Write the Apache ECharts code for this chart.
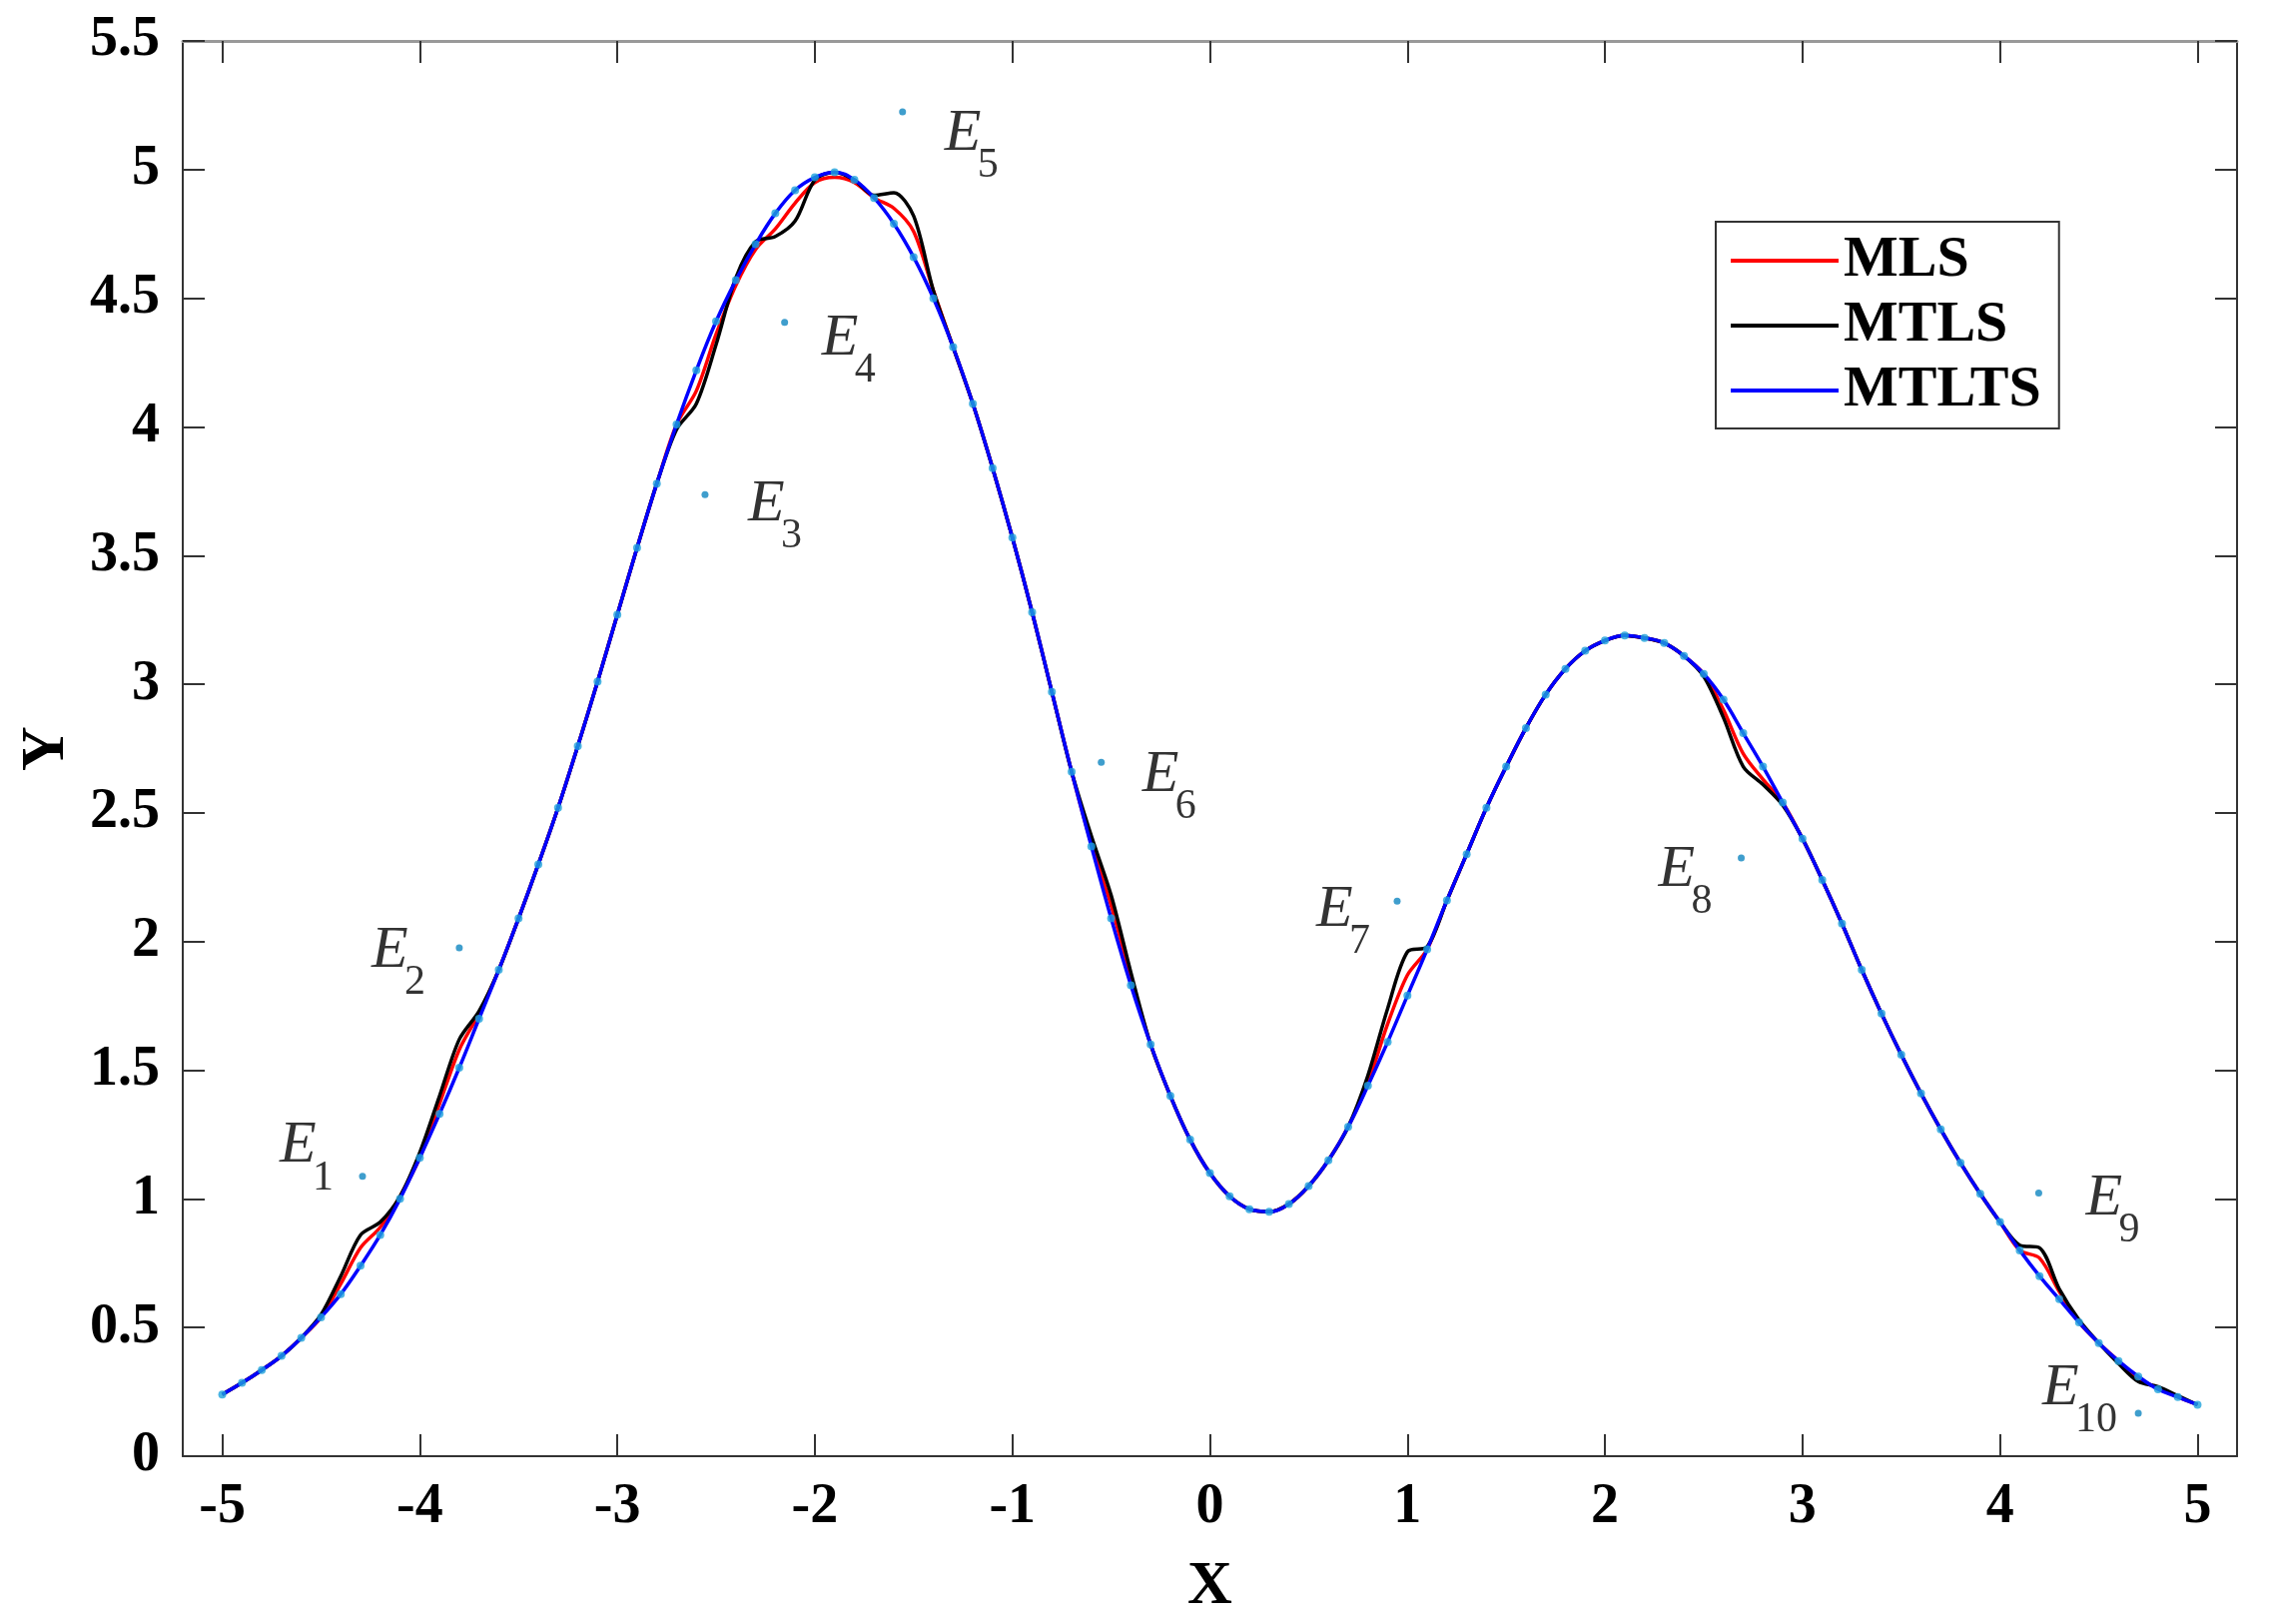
<!DOCTYPE html>
<html>
<head>
<meta charset="utf-8">
<script src="https://cdn.jsdelivr.net/npm/echarts@6/dist/echarts.min.js"></script>
<style>
  html, body { margin: 0; padding: 0; background: #fff; }
  #chart { width: 2274px; height: 1626px; }
</style>
</head>
<body>
<div id="chart"></div>
<script>
// sample positions along X (step 0.1)
var xs = [-5.0, -4.9, -4.8, -4.7, -4.6, -4.5, -4.4, -4.3, -4.2, -4.1,
  -4.0, -3.9, -3.8, -3.7, -3.6, -3.5, -3.4, -3.3, -3.2, -3.1,
  -3.0, -2.9, -2.8, -2.7, -2.6, -2.5, -2.4, -2.3, -2.2, -2.1,
  -2.0, -1.9, -1.8, -1.7, -1.6, -1.5, -1.4, -1.3, -1.2, -1.1,
  -1.0, -0.9, -0.8, -0.7, -0.6, -0.5, -0.4, -0.3, -0.2, -0.1,
  0.0, 0.1, 0.2, 0.3, 0.4, 0.5, 0.6, 0.7, 0.8, 0.9,
  1.0, 1.1, 1.2, 1.3, 1.4, 1.5, 1.6, 1.7, 1.8, 1.9,
  2.0, 2.1, 2.2, 2.3, 2.4, 2.5, 2.6, 2.7, 2.8, 2.9,
  3.0, 3.1, 3.2, 3.3, 3.4, 3.5, 3.6, 3.7, 3.8, 3.9,
  4.0, 4.1, 4.2, 4.3, 4.4, 4.5, 4.6, 4.7, 4.8, 4.9, 5.0];

// MTLTS fit (blue), also the sample dots
var mtltsY = [0.24, 0.285, 0.335, 0.39, 0.46, 0.54, 0.63, 0.74, 0.86, 1.00,
  1.16, 1.33, 1.51, 1.70, 1.89, 2.09, 2.30, 2.52, 2.76, 3.01,
  3.27, 3.53, 3.78, 4.01, 4.22, 4.41, 4.57, 4.71, 4.83, 4.92,
  4.97, 4.99, 4.96, 4.89, 4.79, 4.66, 4.50, 4.31, 4.09, 3.84,
  3.57, 3.28, 2.97, 2.66, 2.37, 2.09, 1.83, 1.60, 1.40, 1.23,
  1.10, 1.01, 0.96, 0.95, 0.98, 1.05, 1.15, 1.28, 1.44, 1.61,
  1.79, 1.97, 2.16, 2.34, 2.52, 2.68, 2.83, 2.96, 3.06, 3.13,
  3.17, 3.19, 3.18, 3.16, 3.11, 3.04, 2.94, 2.81, 2.68, 2.54,
  2.40, 2.24, 2.07, 1.89, 1.72, 1.56, 1.41, 1.27, 1.14, 1.02,
  0.91, 0.80, 0.70, 0.61, 0.52, 0.44, 0.37, 0.31, 0.26, 0.23, 0.20];

// MLS fit (red)
var mlsY = [0.24, 0.285, 0.335, 0.39, 0.46, 0.54, 0.67, 0.81, 0.89, 1.01,
  1.16, 1.37, 1.58, 1.72, 1.89, 2.09, 2.30, 2.52, 2.76, 3.01,
  3.27, 3.53, 3.78, 4.01, 4.14, 4.36, 4.55, 4.69, 4.77, 4.87,
  4.95, 4.97, 4.95, 4.89, 4.85, 4.76, 4.53, 4.31, 4.09, 3.84,
  3.57, 3.28, 2.97, 2.66, 2.38, 2.14, 1.86, 1.60, 1.40, 1.23,
  1.10, 1.01, 0.96, 0.95, 0.98, 1.05, 1.15, 1.28, 1.45, 1.68,
  1.87, 1.97, 2.16, 2.34, 2.52, 2.68, 2.83, 2.96, 3.06, 3.13,
  3.17, 3.19, 3.18, 3.16, 3.11, 3.04, 2.90, 2.73, 2.63, 2.54,
  2.40, 2.24, 2.07, 1.89, 1.72, 1.56, 1.41, 1.27, 1.14, 1.02,
  0.91, 0.80, 0.77, 0.64, 0.52, 0.44, 0.37, 0.30, 0.265, 0.23, 0.20];

// MTLS fit (black)
var mtlsY = [0.24, 0.285, 0.335, 0.39, 0.46, 0.55, 0.70, 0.86, 0.91, 1.01,
  1.18, 1.40, 1.62, 1.73, 1.89, 2.09, 2.30, 2.52, 2.76, 3.01,
  3.27, 3.53, 3.78, 3.99, 4.09, 4.32, 4.58, 4.72, 4.74, 4.80,
  4.96, 4.99, 4.96, 4.90, 4.91, 4.82, 4.53, 4.31, 4.09, 3.84,
  3.57, 3.28, 2.97, 2.66, 2.41, 2.18, 1.88, 1.60, 1.40, 1.23,
  1.10, 1.01, 0.96, 0.95, 0.98, 1.05, 1.15, 1.28, 1.48, 1.74,
  1.96, 1.98, 2.16, 2.34, 2.52, 2.68, 2.83, 2.96, 3.06, 3.13,
  3.17, 3.19, 3.18, 3.16, 3.11, 3.03, 2.87, 2.68, 2.61, 2.53,
  2.40, 2.24, 2.07, 1.89, 1.72, 1.56, 1.41, 1.27, 1.14, 1.02,
  0.91, 0.82, 0.81, 0.65, 0.53, 0.44, 0.36, 0.29, 0.27, 0.235, 0.20];

// outliers E1..E10
var outNames = ['1', '2', '3', '4', '5', '6', '7', '8', '9', '10'];
var outX = [-4.29, -3.80, -2.556, -2.153, -1.556, -0.55, 0.948, 2.69, 4.196, 4.70];
var outY = [1.088, 1.976, 3.737, 4.406, 5.224, 2.697, 2.157, 2.325, 1.023, 0.167];

var xTicks = [-5, -4, -3, -2, -1, 0, 1, 2, 3, 4, 5];
var legendNames = ['MLS', 'MTLS', 'MTLTS'];

// where the letter E sits, px from its dot: [left of glyph, top of capital]
var outLabelAt = [[-83, -49], [-88, -16], [43, -9], [37, -3], [42, 3],
  [41, -6], [-81, -10], [-83, -7], [47, -13], [-96, -44]];

var serif = "'Liberation Serif', 'Times New Roman', serif";

function pairs(x, y) {
  var out = [];
  for (var i = 0; i < x.length; i++) out.push([x[i], y[i]]);
  return out;
}

// letter E and its subscript are two labels on invisible copies of the outliers
var eData = [], subData = [];
for (var i = 0; i < outX.length; i++) {
  var at = outLabelAt[i];
  eData.push({
    value: [outX[i], outY[i]],
    label: { position: [at[0] + 1, at[1] - 11 + 1] }
  });
  subData.push({
    value: [outX[i], outY[i]],
    name: outNames[i],
    label: { position: [at[0] + 33 + 1, at[1] + 38 - 8 + 1] }
  });
}

var myChart = echarts.init(document.getElementById('chart'));

var tickStyle = { show: true, inside: true, length: 22, lineStyle: { color: '#333', width: 2 } };

var option = {
  backgroundColor: '#fff',
  animation: false,
  grid: { left: 183, top: 41, right: 34, bottom: 168 },
  legend: {
    data: legendNames,
    orient: 'vertical',
    left: 1718,
    top: 222,
    padding: [10, 18, 9, 15],
    itemGap: 7,
    icon: 'rect',
    itemWidth: 108,
    itemHeight: 4,
    borderColor: '#333',
    borderWidth: 2,
    backgroundColor: '#fff',
    textStyle: { fontFamily: serif, fontWeight: 'bold', fontSize: 58, lineHeight: 58, color: '#000' }
  },
  xAxis: [{
    type: 'value',
    min: -5.2,
    max: 5.2,
    name: 'X',
    nameLocation: 'middle',
    nameGap: 100,
    nameTextStyle: { fontFamily: serif, fontWeight: 'bold', fontSize: 62, color: '#000' },
    axisLine: { onZero: false, lineStyle: { color: '#333', width: 2 } },
    axisTick: Object.assign({ customValues: xTicks }, tickStyle),
    axisLabel: { customValues: xTicks, margin: 24, fontFamily: serif, fontWeight: 'bold', fontSize: 56, color: '#000' },
    splitLine: { show: false }
  }, {
    type: 'value',
    min: -5.2,
    max: 5.2,
    position: 'top',
    axisLine: { show: true, onZero: false, lineStyle: { color: '#999', width: 3 } },
    axisTick: Object.assign({ customValues: xTicks }, tickStyle),
    axisLabel: { show: false },
    splitLine: { show: false }
  }],
  yAxis: [{
    type: 'value',
    min: 0,
    max: 5.5,
    interval: 0.5,
    name: 'Y',
    nameLocation: 'middle',
    nameGap: 105,
    nameRotate: 90,
    nameTextStyle: { fontFamily: serif, fontWeight: 'bold', fontSize: 62, color: '#000' },
    axisLine: { show: true, onZero: false, lineStyle: { color: '#333', width: 2 } },
    axisTick: tickStyle,
    axisLabel: { margin: 23, fontFamily: serif, fontWeight: 'bold', fontSize: 56, color: '#000' },
    splitLine: { show: false }
  }, {
    type: 'value',
    min: 0,
    max: 5.5,
    interval: 0.5,
    position: 'right',
    axisLine: { show: true, onZero: false, lineStyle: { color: '#333', width: 2 } },
    axisTick: tickStyle,
    axisLabel: { show: false },
    splitLine: { show: false }
  }],
  series: [
    {
      name: 'MLS',
      type: 'line',
      color: '#ff0000',
      data: pairs(xs, mlsY),
      showSymbol: false,
      symbol: 'none',
      smooth: 0.3,
      lineStyle: { color: '#ff0000', width: 3.5 }
    },
    {
      name: 'MTLS',
      type: 'line',
      color: '#000000',
      data: pairs(xs, mtlsY),
      showSymbol: false,
      symbol: 'none',
      smooth: 0.3,
      lineStyle: { color: '#000000', width: 3.5 }
    },
    {
      name: 'MTLTS',
      type: 'line',
      color: '#0000ff',
      data: pairs(xs, mtltsY),
      showSymbol: false,
      symbol: 'none',
      smooth: 0.4,
      lineStyle: { color: '#0000ff', width: 3.5 }
    },
    {
      name: 'samples',
      type: 'scatter',
      data: pairs(xs, mtltsY),
      symbol: 'circle',
      symbolSize: 8,
      itemStyle: { color: '#1fa3dc' },
      z: 4
    },
    {
      name: 'outliers',
      type: 'scatter',
      data: pairs(outX, outY),
      symbol: 'circle',
      symbolSize: 7,
      itemStyle: { color: '#0f86c0' },
      z: 5
    },
    {
      name: 'E',
      type: 'scatter',
      data: eData,
      symbol: 'rect',
      symbolSize: 2,
      itemStyle: { color: 'rgba(0,0,0,0)' },
      silent: true,
      z: 6,
      label: {
        show: true,
        formatter: 'E',
        align: 'left',
        fontFamily: serif,
        fontStyle: 'italic',
        fontSize: 60,
        lineHeight: 60,
        color: '#000'
      }
    },
    {
      name: 'Esub',
      type: 'scatter',
      data: subData,
      symbol: 'rect',
      symbolSize: 2,
      itemStyle: { color: 'rgba(0,0,0,0)' },
      silent: true,
      z: 6,
      label: {
        show: true,
        formatter: '{b}',
        align: 'left',
        fontFamily: serif,
        fontSize: 42,
        lineHeight: 42,
        color: '#000'
      }
    }
  ]
};
myChart.setOption(option);
</script>
</body>
</html>
